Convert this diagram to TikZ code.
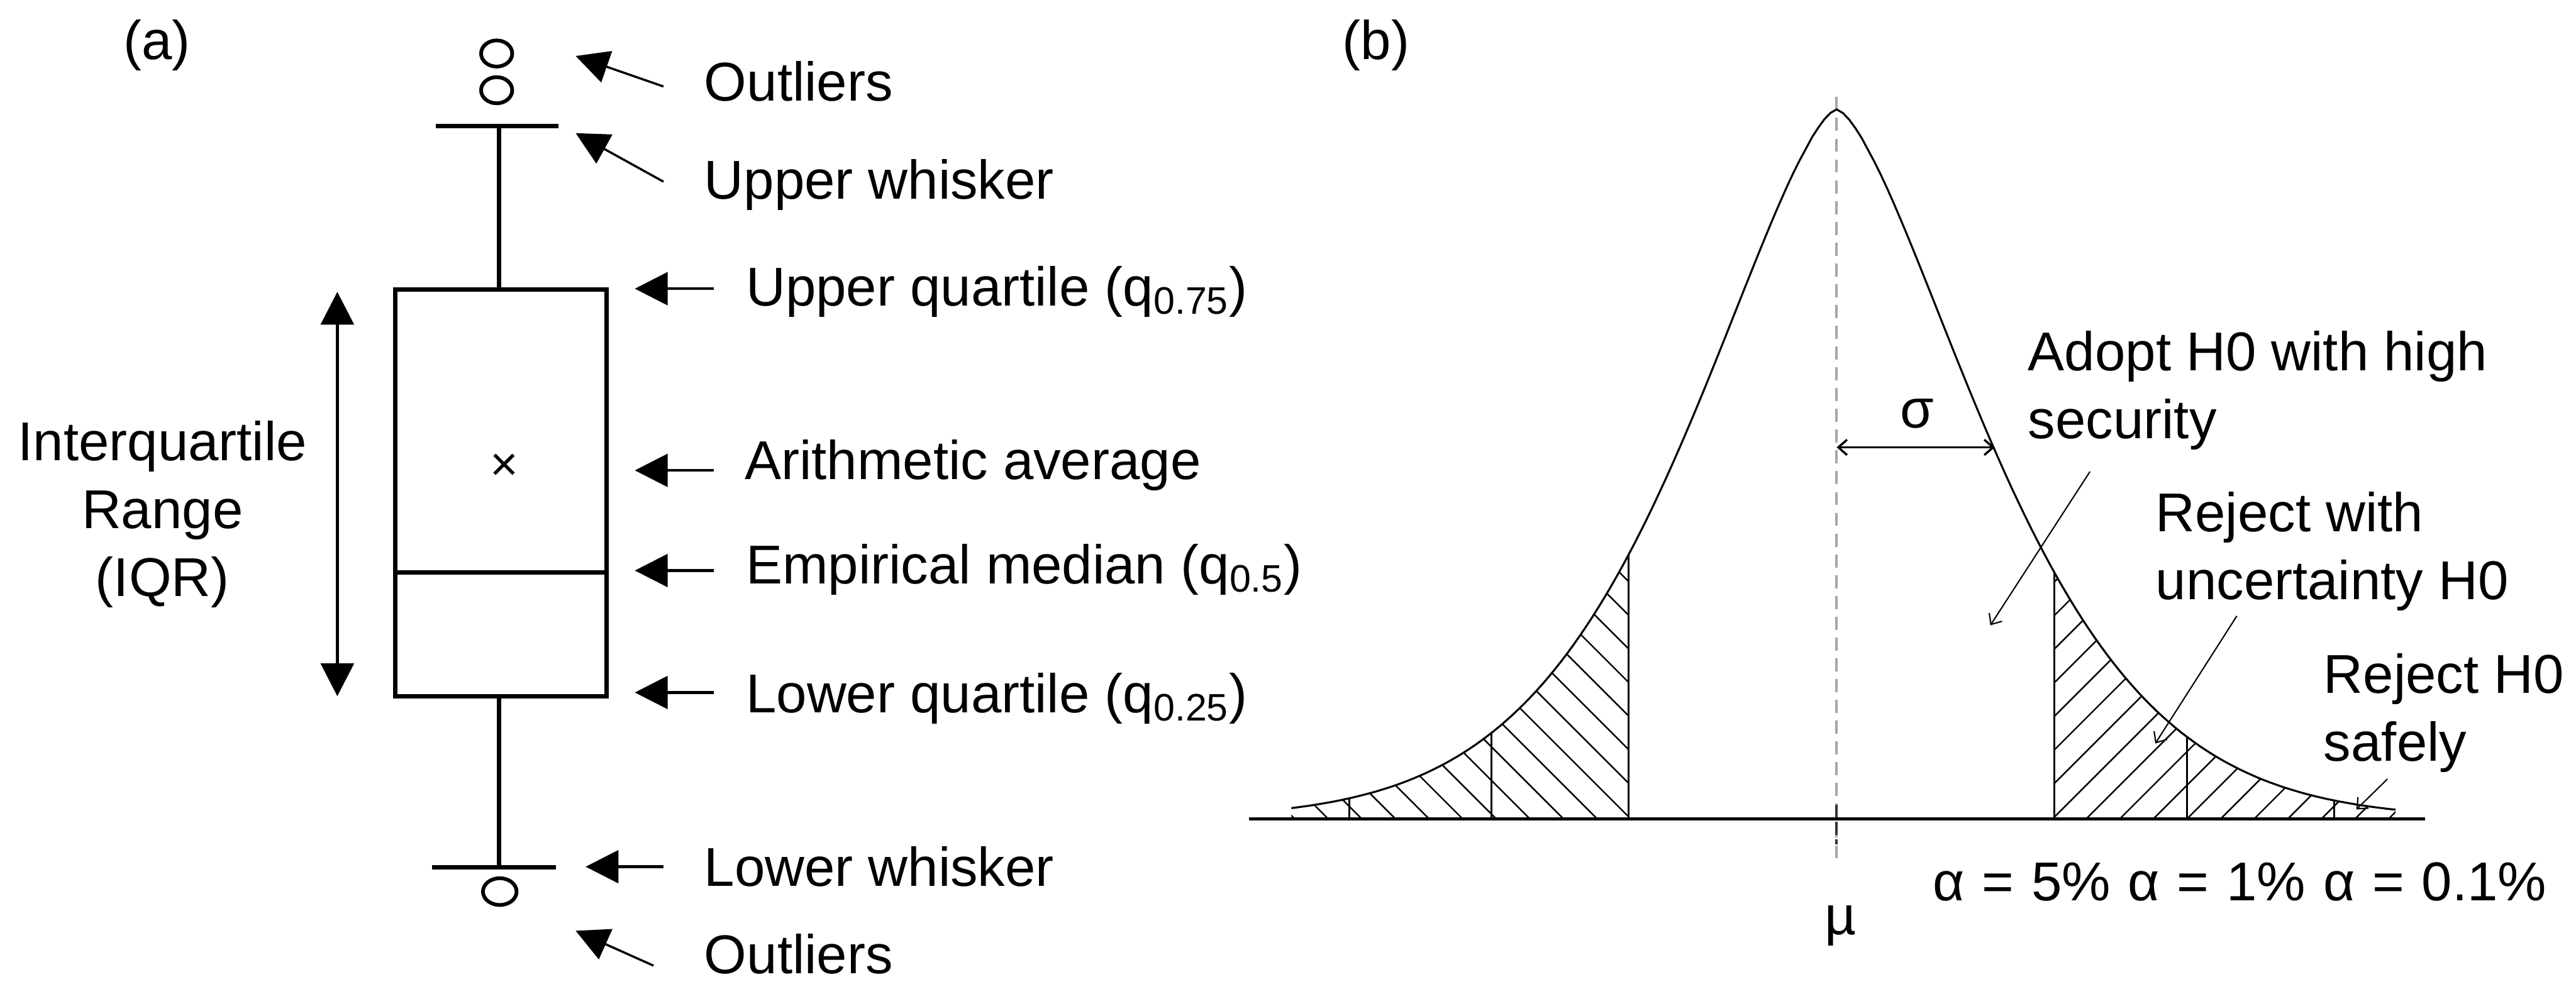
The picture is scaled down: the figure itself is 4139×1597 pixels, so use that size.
\documentclass[tikz,border=0pt]{standalone}
\usepackage{fontspec}
\setmainfont{Liberation Sans}
\usetikzlibrary{arrows.meta}

\begin{document}
\begin{tikzpicture}[x=0.01cm, y=-0.01cm,
    txt/.style={anchor=base west, inner sep=0pt, font=\fontsize{25}{31}\selectfont},
    boxline/.style={line width=2pt},
    pointer/.style={line width=1.2pt, -{Triangle[length=15pt, width=15pt]}},
    twoway/.style={line width=1.6pt, {Triangle[length=15pt, width=15pt]}-{Triangle[length=15pt, width=15pt]}},
    slim/.style={line width=0.6pt, -{Straight Barb[length=4pt, width=7pt]}},
    curveline/.style={line width=0.9pt},
    hatchline/.style={line width=0.7pt},
    guide/.style={line width=1.1pt, black!35, dash pattern=on 6pt off 3.5pt},
    declare function={bell(\t)=1316-1140*exp(0-((abs(\t-2951)+0.01)/337)^1.5);}]

    \useasboundingbox (0,0) rectangle (4139,1597);

    \node [txt, anchor=base] (tagA) at (252,96) {(a)};
    \node [txt, anchor=base] (tagB) at (2211,96) {(b)};

    \draw [boxline] (635,465) rectangle (975,1119);
    \draw [boxline] (635,920) -- (975,920);
    \draw [boxline] (802,203) -- (802,465);
    \draw [boxline] (802,1119) -- (802,1394);
    \draw [boxline] (700,203) -- (897,203);
    \draw [boxline] (694,1394) -- (893,1394);
    \draw [line width=1.7pt] (798,86) ellipse [x radius=0.25cm, y radius=0.21cm];
    \draw [line width=1.7pt] (798,145) ellipse [x radius=0.25cm, y radius=0.21cm];
    \draw [line width=1.7pt] (803,1433) ellipse [x radius=0.27cm, y radius=0.215cm];
    \node [inner sep=0pt, anchor=base, font=\fontsize{22}{26}\selectfont] (mean) at (810,773) {×};

    \coordinate (iqrtop) at (542,469);
    \coordinate (iqrbot) at (542,1119);
    \draw [twoway] (iqrbot) -- (iqrtop);
    \node [txt, anchor=base, align=center] (iqr) at (261,958) {Interquartile\\Range\\(IQR)};

    \node [txt] (outup) at (1131,162) {Outliers};
    \node [txt] (uwhisk) at (1131,320) {Upper whisker};
    \node [txt] (uquart) at (1198,492) {Upper quartile (q\textsubscript{0.75})};
    \node [txt] (avg) at (1196,770) {Arithmetic average};
    \node [txt] (median) at (1198,938) {Empirical median (q\textsubscript{0.5})};
    \node [txt] (lquart) at (1198,1145) {Lower quartile (q\textsubscript{0.25})};
    \node [txt] (lwhisk) at (1131,1424) {Lower whisker};
    \node [txt] (outlow) at (1131,1565) {Outliers};

    \coordinate (outupA) at (1066,139);   \coordinate (outupB) at (925,90);
    \coordinate (uwhiskA) at (1066,292);  \coordinate (uwhiskB) at (925,214);
    \coordinate (uquartA) at (1147,464);  \coordinate (uquartB) at (1020,464);
    \coordinate (avgA) at (1147,756);     \coordinate (avgB) at (1020,756);
    \coordinate (medianA) at (1147,917);  \coordinate (medianB) at (1020,917);
    \coordinate (lquartA) at (1147,1113); \coordinate (lquartB) at (1020,1113);
    \coordinate (lwhiskA) at (1066,1393); \coordinate (lwhiskB) at (941,1393);
    \coordinate (outlowA) at (1050,1552); \coordinate (outlowB) at (925,1496);
    \draw [pointer, line width=1pt] (outupA) -- (outupB);
    \draw [pointer, line width=1pt] (uwhiskA) -- (uwhiskB);
    \draw [pointer] (uquartA) -- (uquartB);
    \draw [pointer] (avgA) -- (avgB);
    \draw [pointer] (medianA) -- (medianB);
    \draw [pointer] (lquartA) -- (lquartB);
    \draw [pointer] (lwhiskA) -- (lwhiskB);
    \draw [pointer, line width=1pt] (outlowA) -- (outlowB);

    \begin{scope}
        \clip plot[domain=2075:2617, samples=40] (\x,{bell(\x)}) -- (2617,1316) -- (2075,1316) -- cycle;
        \foreach \k in {-10,...,12}
            \draw [hatchline] ({2620-54*\k-800},516) -- ({2620-54*\k+50},1366);
    \end{scope}
    \begin{scope}
        \clip plot[domain=3301:3849, samples=40] (\x,{bell(\x)}) -- (3849,1316) -- (3301,1316) -- cycle;
        \foreach \k in {-10,...,12}
            \draw [hatchline] ({3298+54*\k-50},1366) -- ({3298+54*\k+800},516);
    \end{scope}
    \foreach \xa in {2168,2396,2617,3301,3514,3750}
        \draw [line width=0.9pt] (\xa,1316) -- (\xa,{bell(\xa)});

    \coordinate (peaktop) at (2951,156);
    \coordinate (peakbot) at (2951,1385);
    \draw [guide] (peaktop) -- (peakbot);
    \draw [line width=1.6pt] (2007,1316) -- (3896,1316);
    \draw [line width=1.1pt, black!80, dash pattern=on 6pt off 2pt] (2951,1293) -- (2951,1357);
    \draw [curveline] plot[domain=2075:2951, samples=90] (\x,{bell(\x)})
        -- plot[domain=2951:3849, samples=90] (\x,{bell(\x)});

    \coordinate (sigL) at (2951,719);
    \coordinate (sigR) at (3205,719);
    \draw [line width=1pt, {Straight Barb[length=4pt, width=7pt]}-{Straight Barb[length=4pt, width=7pt]}] (sigL) -- (sigR);
    \node [txt, anchor=base] (sigma) at (3080,688) {σ};
    \node [txt, anchor=base] (mu) at (2957,1502) {µ};

    \node [txt, align=left] (adopt) at (3258,705) {Adopt H0 with high\\security};
    \node [txt, align=left] (rejunc) at (3463,963) {Reject with\\uncertainty H0};
    \node [txt, align=left] (rejsafe) at (3733,1223) {Reject H0\\safely};
    \node [txt] (alpha) at (3105,1448) {\spaceskip=0.32em α = 5\% α = 1\% α = 0.1\%};

    \coordinate (adoptA) at (3358,758);   \coordinate (adoptB) at (3198,1005);
    \coordinate (rejuncA) at (3594,990);  \coordinate (rejuncB) at (3463,1195);
    \coordinate (rejsafeA) at (3836,1252); \coordinate (rejsafeB) at (3786,1301);
    \draw [slim] (adoptA) -- (adoptB);
    \draw [slim] (rejuncA) -- (rejuncB);
    \draw [slim] (rejsafeA) -- (rejsafeB);
\end{tikzpicture}
\end{document}
